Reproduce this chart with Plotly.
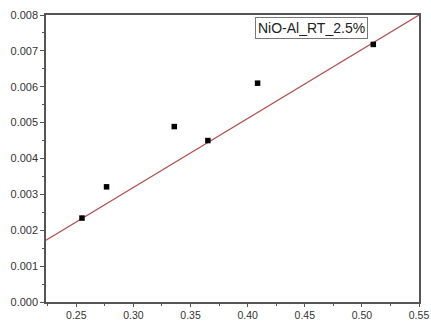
import plotly.graph_objects as go

x_data = [0.255, 0.2765, 0.3358, 0.3652, 0.4087, 0.510]
y_data = [0.00234, 0.00321, 0.00489, 0.00450, 0.00610, 0.00718]
fit_x = [0.2235, 0.55]
fit_y = [0.00172, 0.00800]
label = "NiO-Al_RT_2.5%"

fig = go.Figure()
fig.add_trace(go.Scatter(x=fit_x, y=fit_y, mode="lines",
                         line=dict(color="#b05050", width=1.2), showlegend=False))
fig.add_trace(go.Scatter(x=x_data, y=y_data, mode="markers",
                         marker=dict(symbol="square", size=5.5, color="black"), showlegend=False))

axis_common = dict(showline=True, linecolor="#555555", linewidth=1.5, mirror=True, automargin=False,
                   ticks="outside", tickcolor="#555555", showgrid=False, zeroline=False)
fig.update_xaxes(range=[0.2235, 0.55], tick0=0.25, dtick=0.05, tickformat=".2f", ticklen=3,
                 tickfont=dict(family="Liberation Sans, Arial", size=10.5, color="#333333"),
                 minor=dict(ticks="outside", ticklen=2, dtick=0.025, tick0=0.25, tickcolor="#555555"),
                 **axis_common)
fig.update_yaxes(range=[0, 0.008], tick0=0, dtick=0.001, tickformat=".3f", ticklen=4,
                 tickfont=dict(family="Liberation Sans, Arial", size=11, color="#333333"),
                 minor=dict(ticks="outside", ticklen=2, dtick=0.0005, tickcolor="#555555"),
                 **axis_common)
fig.add_annotation(x=0.713, y=0.994, xref="paper", yref="paper", text=label, showarrow=False,
                   xanchor="center", yanchor="top", bordercolor="#777777", borderwidth=1, borderpad=2,
                   font=dict(family="Liberation Sans, Arial", size=14, color="#222222"), bgcolor="white")
fig.update_layout(width=431, height=322, margin=dict(l=46, r=12, t=15, b=20),
                  plot_bgcolor="white", paper_bgcolor="white")
fig.write_html("out.html")
